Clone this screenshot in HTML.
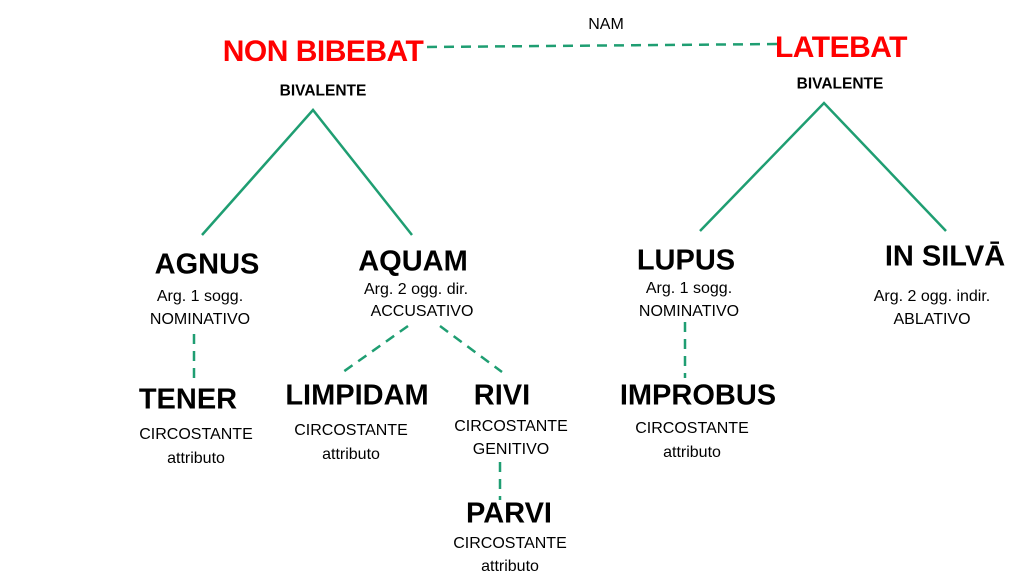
<!DOCTYPE html>
<html><head><meta charset="utf-8"><style>
body{margin:0;width:1024px;height:577px;background:#fff;position:relative;overflow:hidden;font-family:"Liberation Sans",sans-serif;color:#000}
.t{position:absolute;width:400px;text-align:center;white-space:nowrap;line-height:1;transform:translate(-200px,-50%)}
.r{color:#f00;font-weight:bold;font-size:30px;letter-spacing:-0.5px}
.b{font-weight:bold;font-size:29px;letter-spacing:0}
.s{font-size:16px}
.sb{font-weight:bold;font-size:15.5px}
svg{position:absolute;left:0;top:0}
</style></head><body>
<svg width="1024" height="577">
<g stroke="#1f9e72" stroke-width="2.5" fill="none">
<polyline points="202,235 313,110 412,235"/>
<polyline points="700,231 824,103 946,231"/>
</g>
<g stroke="#1f9e72" stroke-width="2.5" fill="none" stroke-dasharray="10,7">
<line x1="427" y1="47" x2="780" y2="44"/>
<line x1="194" y1="334" x2="194" y2="378"/>
<line x1="408" y1="326" x2="343" y2="372"/>
<line x1="440" y1="326" x2="502" y2="372"/>
<line x1="685" y1="322" x2="685" y2="378"/>
<line x1="500" y1="462" x2="500" y2="500"/>
</g>
</svg>
<div class="t s" style="left:606px;top:25px">NAM</div>
<div class="t r" style="left:323px;top:52px">NON BIBEBAT</div>
<div class="t r" style="left:841px;top:48px">LATEBAT</div>
<div class="t sb" style="left:323px;top:91px">BIVALENTE</div>
<div class="t sb" style="left:840px;top:84px">BIVALENTE</div>

<div class="t b" style="left:207px;top:265px">AGNUS</div>
<div class="t s" style="left:200px;top:297px">Arg. 1 sogg.</div>
<div class="t s" style="left:200px;top:320px">NOMINATIVO</div>

<div class="t b" style="left:413px;top:262px">AQUAM</div>
<div class="t s" style="left:416px;top:290px">Arg. 2 ogg. dir.</div>
<div class="t s" style="left:422px;top:312px">ACCUSATIVO</div>

<div class="t b" style="left:686px;top:261px">LUPUS</div>
<div class="t s" style="left:689px;top:289px">Arg. 1 sogg.</div>
<div class="t s" style="left:689px;top:312px">NOMINATIVO</div>

<div class="t b" style="left:945px;top:257px">IN SILVĀ</div>
<div class="t s" style="left:932px;top:297px">Arg. 2 ogg. indir.</div>
<div class="t s" style="left:932px;top:320px">ABLATIVO</div>

<div class="t b" style="left:188px;top:400px">TENER</div>
<div class="t s" style="left:196px;top:435px">CIRCOSTANTE</div>
<div class="t s" style="left:196px;top:459px">attributo</div>

<div class="t b" style="left:357px;top:396px">LIMPIDAM</div>
<div class="t s" style="left:351px;top:431px">CIRCOSTANTE</div>
<div class="t s" style="left:351px;top:455px">attributo</div>

<div class="t b" style="left:502px;top:396px">RIVI</div>
<div class="t s" style="left:511px;top:427px">CIRCOSTANTE</div>
<div class="t s" style="left:511px;top:450px">GENITIVO</div>

<div class="t b" style="left:698px;top:396px">IMPROBUS</div>
<div class="t s" style="left:692px;top:429px">CIRCOSTANTE</div>
<div class="t s" style="left:692px;top:453px">attributo</div>

<div class="t b" style="left:509px;top:514px">PARVI</div>
<div class="t s" style="left:510px;top:544px">CIRCOSTANTE</div>
<div class="t s" style="left:510px;top:567px">attributo</div>
</body></html>
